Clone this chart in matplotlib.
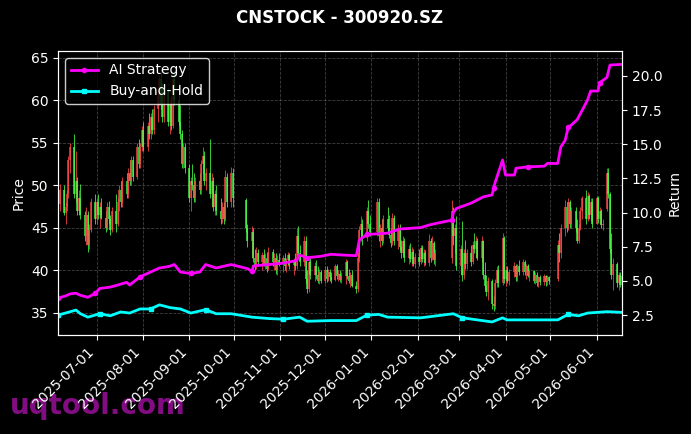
import numpy as np
import pandas as pd
import matplotlib
matplotlib.use("Agg")
from matplotlib import pyplot as plt
import matplotlib.dates as mdates


# trading calendar (weekdays minus exchange holidays)
holidays = ["2025-10-01", "2025-10-02", "2025-10-03", "2025-10-06", "2025-10-07", "2025-10-08",
            "2026-01-01", "2026-01-02",
            "2026-02-16", "2026-02-17", "2026-02-18", "2026-02-19", "2026-02-20", "2026-02-23",
            "2026-04-06", "2026-05-01", "2026-05-04", "2026-05-05"]
dates = pd.bdate_range("2025-06-05", "2026-06-18")
dates = dates[~dates.isin(pd.to_datetime(holidays))]

opens = [
    46.5, 47.8, 49.5, 46.8, 47.5, 49.0, 53.0, 54.5, 49.0, 50.5, 47.0, 48.5, 46.5, 44.0, 46.5, 43.0, 44.8, 48.0,
    46.0, 48.0, 46.5, 47.5, 46.2, 45.0, 47.5, 46.0, 44.8, 47.0, 45.5, 48.0, 49.5, 48.0, 50.5, 49.0, 51.5, 50.5, 53.0, 51.0, 54.5, 52.5, 54.5,
    56.5, 54.5, 57.0, 56.0, 58.0, 56.5, 59.0, 60.5, 62.5, 59.5, 58.0, 61.0, 57.5, 59.5, 57.0, 62.5, 60.0, 57.5, 56.0, 52.5, 54.5,
    52.0, 48.5, 50.5, 50.0, 48.5, 50.5, 49.5, 52.5, 53.5, 50.5, 51.5, 49.0, 50.5, 47.5, 49.0, 47.0, 46.0, 47.5, 46.0, 51.0, 48.0, 51.5,
    48.3, 45.0, 43.5, 44.5, 41.5, 40.5, 42.0, 41.0, 41.8, 40.8, 41.5, 40.2, 42.2, 41.0, 41.5, 40.0, 41.2,
    40.8, 41.5, 40.5, 41.2, 41.8, 40.6, 41.0, 40.5, 44.0, 42.0, 41.0, 43.5, 39.0, 37.8, 41.0, 39.5, 40.5, 39.5, 38.8, 39.8,
    38.8, 40.0, 39.0, 39.8, 39.2, 38.9, 40.5, 39.3, 39.6, 38.9, 39.4, 41.0, 39.4, 38.8, 39.5, 38.2, 37.8, 41.5, 44.8, 45.5, 43.8, 47.0, 45.5,
    44.5, 48.0, 44.0, 45.0, 43.5, 46.0, 45.0, 44.2, 43.2, 46.2, 43.5, 45.0, 42.8, 42.0, 43.5, 41.5, 42.5, 41.3, 42.2, 40.8,
    41.6, 41.0, 42.6, 41.4, 42.0, 40.9, 43.5, 41.5, 43.2, 41.2, 41.5, 47.0, 44.0, 45.0,
    40.5, 42.5, 39.5, 42.0, 40.8, 42.0, 41.0, 43.0, 42.5, 43.5, 41.5, 43.5, 39.5, 38.2, 37.5, 38.8, 36.0, 35.8, 38.5, 40.0, 38.5, 43.8,
    39.0, 40.0, 38.8, 39.8, 40.5, 39.2, 40.5, 39.8, 41.0, 39.8, 40.5, 39.4, 39.9, 38.8, 39.5, 38.5, 39.2, 38.6, 39.3, 38.6, 39.2,
    39.0, 43.0, 42.0, 45.0, 47.5, 45.0, 48.0, 45.5, 47.0, 45.0, 43.5, 45.0, 47.0, 48.5, 46.0, 48.8, 46.5, 48.0,
    45.5, 48.5, 46.0, 47.0, 45.3, 47.2, 51.5, 49.0, 42.5, 39.5, 40.8, 38.5, 39.5, 38.3,
]
highs = [
    48.2, 50.2, 50.0, 48.0, 49.5, 53.5, 55.0, 56.0, 54.0, 51.0, 49.5, 50.2, 47.0, 47.5, 47.0, 45.5, 48.5, 49.0,
    48.5, 49.0, 48.0, 48.5, 47.0, 48.0, 48.2, 46.5, 47.5, 49.0, 48.5, 50.0, 50.5, 51.0, 51.5, 52.0, 53.0, 53.5, 53.5, 55.0, 55.5, 55.0, 57.0,
    57.5, 57.5, 58.5, 58.5, 59.0, 59.5, 61.0, 63.0, 64.0, 62.0, 61.5, 61.5, 60.0, 60.5, 63.0, 63.5, 62.0, 59.5, 56.5, 55.0, 55.0,
    52.5, 51.0, 52.5, 51.5, 51.0, 51.5, 53.0, 54.5, 54.0, 52.0, 55.5, 51.5, 51.0, 49.5, 50.0, 48.5, 48.0, 48.0, 51.8, 51.5, 52.2, 52.0,
    48.5, 45.5, 45.2, 45.0, 42.5, 42.8, 42.5, 42.2, 42.5, 42.0, 42.0, 42.8, 42.5, 42.0, 42.0, 41.8, 42.0,
    41.8, 42.0, 41.5, 42.2, 42.0, 41.5, 42.0, 45.0, 45.2, 43.0, 44.0, 44.0, 40.0, 41.5, 41.5, 41.0, 41.2, 40.5, 40.2, 40.0,
    40.5, 40.5, 40.2, 40.2, 39.8, 40.8, 40.8, 40.0, 40.0, 39.8, 41.4, 41.2, 40.2, 39.8, 40.0, 38.8, 42.0, 45.2, 46.4, 46.0, 47.5, 48.3, 46.5,
    48.5, 48.5, 45.5, 46.0, 46.5, 47.5, 46.5, 45.0, 46.8, 46.5, 45.5, 45.5, 43.6, 44.0, 43.8, 43.0, 43.2, 42.8, 42.5, 42.0,
    42.5, 43.0, 43.0, 42.5, 42.4, 44.3, 43.8, 44.0, 43.5, 42.5, 48.3, 47.5, 45.5, 46.4,
    43.0, 45.8, 42.5, 43.6, 42.5, 43.0, 43.5, 44.4, 44.0, 43.8, 44.0, 43.6, 41.0, 39.5, 39.2, 39.0, 37.0, 39.0, 40.5, 40.6, 44.4, 44.0,
    40.5, 40.5, 40.2, 41.0, 40.8, 40.8, 41.2, 41.3, 41.2, 40.8, 40.8, 40.2, 40.0, 39.8, 39.8, 39.4, 39.5, 39.6, 39.5, 39.5, 39.4,
    43.6, 44.4, 45.5, 48.3, 48.0, 48.5, 48.3, 47.5, 47.5, 46.0, 45.5, 47.5, 48.8, 49.5, 49.2, 49.0, 48.5, 48.5,
    48.8, 48.8, 47.5, 47.2, 46.0, 52.1, 52.0, 49.2, 44.4, 41.5, 41.0, 39.8, 39.8, 39.6,
]
lows = [
    45.2, 47.0, 46.5, 45.5, 47.0, 48.5, 51.5, 48.5, 48.0, 46.5, 46.5, 46.0, 43.5, 43.0, 42.2, 42.5, 44.5, 45.5,
    45.5, 46.0, 45.0, 46.0, 44.5, 44.8, 45.5, 44.2, 44.5, 44.5, 45.2, 47.0, 47.5, 47.5, 48.5, 48.5, 50.0, 50.0, 50.5, 50.8, 52.0, 52.0, 54.0,
    54.0, 54.0, 55.5, 55.5, 56.0, 56.0, 57.5, 59.5, 59.0, 57.5, 57.5, 57.0, 56.0, 56.5, 56.8, 59.5, 57.0, 55.5, 52.0, 52.0, 51.5,
    48.0, 47.0, 49.5, 48.0, 48.0, 49.0, 49.0, 51.5, 50.0, 49.5, 48.5, 47.5, 47.0, 46.5, 46.5, 45.5, 45.6, 45.5, 45.8, 47.5, 47.5, 47.5,
    44.5, 42.8, 41.5, 41.0, 40.0, 40.2, 40.5, 40.0, 40.5, 40.2, 39.8, 40.0, 40.5, 40.0, 39.6, 39.5, 40.5,
    39.8, 40.0, 39.8, 40.5, 40.2, 39.5, 40.0, 40.2, 41.5, 40.5, 40.5, 38.5, 37.3, 37.5, 39.0, 38.8, 39.0, 38.5, 38.4, 38.5,
    38.5, 38.6, 38.8, 38.8, 38.5, 38.7, 39.0, 38.8, 38.6, 38.5, 38.4, 39.0, 38.5, 38.0, 38.0, 37.4, 37.5, 41.0, 43.5, 43.0, 43.5, 45.0, 44.0,
    44.0, 43.5, 42.8, 43.0, 43.2, 44.5, 43.8, 42.8, 43.0, 43.0, 42.5, 42.4, 41.5, 41.8, 41.0, 40.8, 41.0, 40.5, 40.5, 40.3,
    40.5, 40.8, 41.0, 40.5, 40.6, 40.5, 41.0, 41.2, 40.8, 40.5, 40.9, 43.0, 42.0, 40.0,
    39.5, 38.8, 39.0, 40.2, 40.2, 40.5, 40.8, 42.0, 41.5, 41.2, 41.0, 39.0, 37.7, 37.0, 36.5, 35.5, 35.2, 35.5, 38.0, 38.0, 38.3, 38.5,
    38.2, 38.5, 38.3, 39.2, 38.8, 38.8, 39.5, 39.5, 39.5, 39.0, 39.2, 38.8, 38.5, 38.4, 38.2, 38.1, 38.3, 38.3, 38.2, 38.3, 38.4,
    38.8, 41.0, 41.5, 44.0, 44.5, 44.8, 45.0, 45.0, 44.5, 43.2, 43.2, 44.8, 46.0, 45.5, 45.8, 46.0, 45.8, 45.0,
    45.5, 45.6, 45.5, 45.0, 44.8, 47.0, 48.5, 42.0, 39.0, 37.7, 38.0, 37.7, 38.0, 37.8,
]
closes = [
    47.8, 49.5, 46.8, 47.5, 49.0, 53.0, 54.5, 49.0, 50.5, 47.0, 48.5, 46.5, 44.0, 46.5, 43.0, 44.8, 48.0, 46.0,
    48.0, 46.5, 47.5, 46.2, 45.0, 47.5, 46.0, 44.8, 47.0, 45.5, 48.0, 49.5, 48.0, 50.5, 49.0, 51.5, 50.5, 53.0, 51.0, 54.5, 52.5, 54.5, 56.5,
    54.5, 57.0, 56.0, 58.0, 56.5, 59.0, 60.5, 62.5, 59.5, 58.0, 61.0, 57.5, 59.5, 57.0, 62.5, 60.0, 57.5, 56.0, 52.5, 54.5, 52.0,
    48.5, 50.5, 50.0, 48.5, 50.5, 49.5, 52.5, 53.5, 50.5, 51.5, 49.0, 50.5, 47.5, 49.0, 47.0, 46.0, 47.5, 46.0, 51.0, 48.0, 51.5, 48.5,
    45.0, 43.5, 44.5, 41.5, 40.5, 42.0, 41.0, 41.8, 40.8, 41.5, 40.2, 42.2, 41.0, 41.5, 40.0, 41.2, 40.8,
    41.5, 40.5, 41.2, 41.8, 40.6, 41.0, 40.5, 44.0, 42.0, 41.0, 43.5, 39.0, 37.8, 41.0, 39.5, 40.5, 39.5, 38.8, 39.8, 38.8,
    40.0, 39.0, 39.8, 39.2, 38.9, 40.5, 39.3, 39.6, 38.9, 39.4, 41.0, 39.4, 38.8, 39.5, 38.2, 37.8, 41.5, 44.8, 45.5, 43.8, 47.0, 45.5, 44.5,
    48.0, 44.0, 45.0, 43.5, 46.0, 45.0, 44.2, 43.2, 46.2, 43.5, 45.0, 42.8, 42.0, 43.5, 41.5, 42.5, 41.3, 42.2, 40.8, 41.6,
    41.0, 42.6, 41.4, 42.0, 40.9, 43.5, 41.5, 43.2, 41.2, 42.0, 47.0, 44.0, 45.0, 40.5,
    42.5, 39.5, 42.0, 40.8, 42.0, 41.0, 43.0, 42.5, 43.5, 41.5, 43.5, 39.5, 38.2, 37.5, 38.8, 36.0, 35.8, 38.5, 40.0, 38.5, 43.8, 39.0,
    40.0, 38.8, 39.8, 40.5, 39.2, 40.5, 39.8, 41.0, 39.8, 40.5, 39.4, 39.9, 38.8, 39.5, 38.5, 39.2, 38.6, 39.3, 38.6, 39.2, 38.8,
    43.0, 42.0, 45.0, 47.5, 45.0, 48.0, 45.5, 47.0, 45.0, 43.5, 45.0, 47.0, 48.5, 46.0, 48.8, 46.5, 48.0, 45.5,
    48.5, 46.0, 47.0, 45.3, 45.5, 51.5, 49.0, 42.5, 39.5, 40.8, 38.5, 39.5, 38.3, 39.4,
]

strategy_dates = [
    "2025-06-05", "2025-06-10", "2025-06-13", "2025-06-17", "2025-06-20", "2025-06-25", "2025-06-30",
    "2025-07-03", "2025-07-10", "2025-07-15", "2025-07-21", "2025-07-23", "2025-07-30",
    "2025-08-06", "2025-08-12", "2025-08-18", "2025-08-22", "2025-08-26",
    "2025-09-02", "2025-09-08", "2025-09-12", "2025-09-19", "2025-09-29",
    "2025-10-10", "2025-10-13", "2025-10-14", "2025-10-24",
    "2025-11-03", "2025-11-12", "2025-11-14", "2025-11-19", "2025-11-28",
    "2025-12-05", "2025-12-12", "2025-12-22", "2025-12-24", "2025-12-29",
    "2026-01-12", "2026-01-20", "2026-02-03", "2026-02-09", "2026-02-13",
    "2026-02-24", "2026-02-25", "2026-02-27", "2026-03-09", "2026-03-17",
    "2026-03-23", "2026-03-24", "2026-03-25", "2026-03-30",
    "2026-04-01", "2026-04-07", "2026-04-08", "2026-04-16", "2026-04-27", "2026-04-29",
    "2026-05-06", "2026-05-08", "2026-05-11", "2026-05-13", "2026-05-15", "2026-05-19", "2026-05-26", "2026-05-28",
    "2026-06-02", "2026-06-03", "2026-06-08", "2026-06-10", "2026-06-18",
]
strategy_ret = [
    3.75, 3.9, 4.05, 4.1, 3.95, 3.8, 4.1,
    4.45, 4.55, 4.7, 4.9, 4.7, 5.3,
    5.65, 5.95, 6.05, 6.2, 5.65,
    5.55, 5.65, 6.2, 5.95, 6.2,
    5.9, 5.7, 6.1, 6.2,
    6.3, 6.5, 6.9, 6.7, 6.8,
    6.95, 6.9, 6.85, 8.0, 8.4,
    8.5, 8.8, 8.9, 9.1, 9.2,
    9.45, 10.0, 10.3, 10.7, 11.15,
    11.3, 11.8, 12.2, 13.85,
    12.75, 12.75, 13.25, 13.35, 13.4, 13.6,
    13.6, 14.8, 15.3, 16.25, 16.4, 16.8, 18.25, 18.9,
    18.9, 19.5, 19.9, 20.8, 20.85,
]

hold_dates = [
    "2025-06-05", "2025-06-10", "2025-06-17", "2025-06-20", "2025-06-25",
    "2025-07-03", "2025-07-10", "2025-07-17", "2025-07-23", "2025-07-30",
    "2025-08-06", "2025-08-12", "2025-08-19", "2025-08-26",
    "2025-09-02", "2025-09-12", "2025-09-19", "2025-09-29",
    "2025-10-13", "2025-10-24", "2025-11-03", "2025-11-14", "2025-11-19",
    "2025-12-05", "2025-12-22", "2025-12-29", "2026-01-06", "2026-01-12",
    "2026-02-03", "2026-02-25", "2026-03-03", "2026-03-23", "2026-03-30",
    "2026-04-02", "2026-05-06", "2026-05-13", "2026-05-20", "2026-05-26",
    "2026-06-08", "2026-06-18",
]
hold_ret = [
    2.5, 2.65, 2.87, 2.6, 2.35,
    2.6, 2.45, 2.73, 2.65, 2.95,
    2.95, 3.25, 3.05, 2.95,
    2.65, 2.9, 2.6, 2.6,
    2.35, 2.25, 2.2, 2.35, 2.05,
    2.1, 2.1, 2.5, 2.55, 2.35,
    2.3, 2.6, 2.3, 2.0, 2.3,
    2.15, 2.15, 2.55, 2.45, 2.65,
    2.75, 2.7,
]

opens = np.array(opens)
highs = np.array(highs)
lows = np.array(lows)
closes = np.array(closes)

fig, ax = plt.subplots(figsize=(6.91, 4.34), dpi=100)
fig.patch.set_facecolor("black")
ax.set_facecolor("black")
fig.subplots_adjust(left=0.084, right=0.9, top=0.8825, bottom=0.228)

# candles: red up, green down
colors = np.where(closes >= opens, "#ff4848", "#48ff48")
ax.vlines(dates, lows, highs, colors=colors, linewidth=0.7, alpha=0.8)
ax.vlines(dates, np.minimum(opens, closes), np.maximum(opens, closes),
          colors=colors, linewidth=1.3, alpha=0.8)
ax.set_xlim(dates[0], dates[-1])
ax.set_ylim(32.4, 65.8)
ax.set_ylabel("Price", color="white")
ax.grid(True, linestyle="--", color="gray", linewidth=0.6, alpha=0.5)

ax2 = ax.twinx()
ax2.plot(pd.to_datetime(strategy_dates), strategy_ret, color="magenta", linewidth=2,
         marker="o", markersize=3, markevery=6, label="AI Strategy")
ax2.plot(pd.to_datetime(hold_dates), hold_ret, color="cyan", linewidth=2,
         marker="s", markersize=3, markevery=5, label="Buy-and-Hold")
ax2.set_ylim(1.04, 21.83)
ax2.set_ylabel("Return", color="white")

ax.xaxis.set_major_locator(mdates.MonthLocator())
ax.xaxis.set_major_formatter(mdates.DateFormatter("%Y-%m-%d"))
plt.setp(ax.get_xticklabels(), rotation=45, ha="right")

for a in (ax, ax2):
    a.tick_params(colors="white")
    for s in a.spines.values():
        s.set_color("white")

ax.set_title("CNSTOCK - 300920.SZ", color="white", fontsize=12, fontweight="bold", pad=20)
leg = ax2.legend(loc="upper left", facecolor="black", edgecolor="white", labelcolor="white")

fig.text(0.014, 0.045, "uqtool.com", fontsize=20, fontweight="bold", color="#9a109a",
         alpha=0.85, zorder=-1)

plt.savefig("out.png", dpi=100, facecolor=fig.get_facecolor())
plt.close()
